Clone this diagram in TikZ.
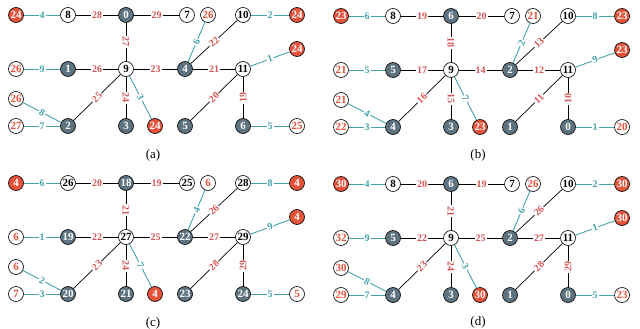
\documentclass[tikz,border=0pt]{standalone}
\usepackage{fontspec}
\setmainfont{Liberation Serif}
\usepackage{tikz}
\usetikzlibrary{positioning}
\usepackage{xcolor}

\definecolor{nodegray}{RGB}{94,115,128}
\definecolor{nodered}{RGB}{229,83,59}
\definecolor{edgeteal}{RGB}{70,163,172}
\definecolor{labred}{RGB}{215,85,85}

\begin{document}
\begin{tikzpicture}[
    x=1pt, y=-1pt,
    vert/.style = {circle, draw=black, line width=0.6pt, minimum size=15pt, inner sep=0pt, font=\fontsize{11}{11}\selectfont\bfseries},
    gnode/.style = {vert, fill=nodegray, text=white},
    rnode/.style = {vert, fill=nodered, text=white},
    wnode/.style = {vert, fill=white, text=black},
    lnode/.style = {vert, fill=white, text=nodered},
    tedge/.style = {draw=black, line width=0.7pt},
    ledge/.style = {draw=edgeteal, line width=0.9pt},
    elab/.style = {fill=white, inner sep=1pt, sloped, font=\fontsize{10}{10}\selectfont\bfseries},
    rlab/.style = {elab, text=labred},
    tlab/.style = {elab, text=edgeteal},
    caption/.style = {font=\fontsize{13}{13}\selectfont}
]
\useasboundingbox (0,0) rectangle (640,329);

% Panel (a)
\node (a1) [rnode] at (16, 15) {24};
\node (a2) [wnode] at (68, 15) {8};
\node (a3) [gnode] at (126, 15) {0};
\node (a4) [wnode] at (187, 15) {7};
\node (a5) [lnode] at (208, 15) {26};
\node (a6) [wnode] at (243, 15) {10};
\node (a7) [rnode] at (297, 15) {24};
\node (a8) [rnode] at (297, 49) {24};
\node (a9) [lnode] at (16, 69) {26};
\node (a10) [gnode] at (68, 69) {1};
\node (a11) [wnode] at (126, 69) {9};
\node (a12) [gnode] at (185, 69) {4};
\node (a13) [wnode] at (243, 69) {11};
\node (a14) [lnode] at (16, 99) {26};
\node (a15) [lnode] at (16, 126) {27};
\node (a16) [gnode] at (68, 126) {2};
\node (a17) [gnode] at (126, 126) {3};
\node (a18) [rnode] at (155, 126) {24};
\node (a19) [gnode] at (185, 126) {5};
\node (a20) [gnode] at (243, 126) {6};
\node (a21) [lnode] at (297, 126) {25};

\draw [ledge] (a1) -- node [tlab] {4} (a2);
\draw [tedge] (a2) -- node [rlab] {28} (a3);
\draw [tedge] (a3) -- node [rlab] {29} (a4);
\draw [tedge] (a3) -- node [rlab] {27} (a11);
\draw [ledge] (a9) -- node [tlab] {9} (a10);
\draw [tedge] (a10) -- node [rlab] {26} (a11);
\draw [tedge] (a11) -- node [rlab] {23} (a12);
\draw [tedge] (a12) -- node [rlab] {21} (a13);
\draw [ledge] (a12) -- node [tlab] {6} (a5);
\draw [tedge] (a12) -- node [rlab] {22} (a6);
\draw [ledge] (a6) -- node [tlab] {2} (a7);
\draw [ledge] (a13) -- node [tlab] {1} (a8);
\draw [tedge] (a13) -- node [rlab] {20} (a19);
\draw [tedge] (a20) -- node [rlab] {19} (a13);
\draw [ledge] (a20) -- node [tlab] {5} (a21);
\draw [tedge] (a11) -- node [rlab] {25} (a16);
\draw [tedge] (a11) -- node [rlab] {24} (a17);
\draw [ledge] (a11) -- node [tlab] {3} (a18);
\draw [ledge] (a14) -- node [tlab] {8} (a16);
\draw [ledge] (a15) -- node [tlab] {7} (a16);

\node (la) [caption] at (153, 155) {(a)};

% Panel (b)
\begin{scope}[shift={(325,1)}]
\node (b1) [rnode] at (16, 15) {23};
\node (b2) [wnode] at (68, 15) {8};
\node (b3) [gnode] at (126, 15) {6};
\node (b4) [wnode] at (187, 15) {7};
\node (b5) [lnode] at (208, 15) {21};
\node (b6) [wnode] at (243, 15) {10};
\node (b7) [rnode] at (297, 15) {23};
\node (b8) [rnode] at (297, 49) {23};
\node (b9) [lnode] at (16, 69) {21};
\node (b10) [gnode] at (68, 69) {5};
\node (b11) [wnode] at (126, 69) {9};
\node (b12) [gnode] at (185, 69) {2};
\node (b13) [wnode] at (243, 69) {11};
\node (b14) [lnode] at (16, 99) {21};
\node (b15) [lnode] at (16, 126) {22};
\node (b16) [gnode] at (68, 126) {4};
\node (b17) [gnode] at (126, 126) {3};
\node (b18) [rnode] at (155, 126) {23};
\node (b19) [gnode] at (185, 126) {1};
\node (b20) [gnode] at (243, 126) {0};
\node (b21) [lnode] at (297, 126) {20};

\draw [ledge] (b1) -- node [tlab] {6} (b2);
\draw [tedge] (b2) -- node [rlab] {19} (b3);
\draw [tedge] (b3) -- node [rlab] {20} (b4);
\draw [tedge] (b3) -- node [rlab] {18} (b11);
\draw [ledge] (b9) -- node [tlab] {5} (b10);
\draw [tedge] (b10) -- node [rlab] {17} (b11);
\draw [tedge] (b11) -- node [rlab] {14} (b12);
\draw [tedge] (b12) -- node [rlab] {12} (b13);
\draw [ledge] (b12) -- node [tlab] {2} (b5);
\draw [tedge] (b12) -- node [rlab] {13} (b6);
\draw [ledge] (b6) -- node [tlab] {8} (b7);
\draw [ledge] (b13) -- node [tlab] {9} (b8);
\draw [tedge] (b13) -- node [rlab] {11} (b19);
\draw [tedge] (b20) -- node [rlab] {10} (b13);
\draw [ledge] (b20) -- node [tlab] {1} (b21);
\draw [tedge] (b11) -- node [rlab] {16} (b16);
\draw [tedge] (b11) -- node [rlab] {15} (b17);
\draw [ledge] (b11) -- node [tlab] {7} (b18);
\draw [ledge] (b14) -- node [tlab] {4} (b16);
\draw [ledge] (b15) -- node [tlab] {3} (b16);

\node (lb) [caption] at (153, 154) {(b)};
\end{scope}

% Panel (c)
\begin{scope}[shift={(0,168)}]
\node (c1) [rnode] at (16, 15) {4};
\node (c2) [wnode] at (68, 15) {26};
\node (c3) [gnode] at (126, 15) {18};
\node (c4) [wnode] at (187, 15) {25};
\node (c5) [lnode] at (208, 15) {6};
\node (c6) [wnode] at (243, 15) {28};
\node (c7) [rnode] at (297, 15) {4};
\node (c8) [rnode] at (297, 49) {4};
\node (c9) [lnode] at (16, 69) {6};
\node (c10) [gnode] at (68, 69) {19};
\node (c11) [wnode] at (126, 69) {27};
\node (c12) [gnode] at (185, 69) {22};
\node (c13) [wnode] at (243, 69) {29};
\node (c14) [lnode] at (16, 99) {6};
\node (c15) [lnode] at (16, 126) {7};
\node (c16) [gnode] at (68, 126) {20};
\node (c17) [gnode] at (126, 126) {21};
\node (c18) [rnode] at (155, 126) {4};
\node (c19) [gnode] at (185, 126) {23};
\node (c20) [gnode] at (243, 126) {24};
\node (c21) [lnode] at (297, 126) {5};

\draw [ledge] (c1) -- node [tlab] {6} (c2);
\draw [tedge] (c2) -- node [rlab] {20} (c3);
\draw [tedge] (c3) -- node [rlab] {19} (c4);
\draw [tedge] (c3) -- node [rlab] {21} (c11);
\draw [ledge] (c9) -- node [tlab] {1} (c10);
\draw [tedge] (c10) -- node [rlab] {22} (c11);
\draw [tedge] (c11) -- node [rlab] {25} (c12);
\draw [tedge] (c12) -- node [rlab] {27} (c13);
\draw [ledge] (c12) -- node [tlab] {4} (c5);
\draw [tedge] (c12) -- node [rlab] {26} (c6);
\draw [ledge] (c6) -- node [tlab] {8} (c7);
\draw [ledge] (c13) -- node [tlab] {9} (c8);
\draw [tedge] (c13) -- node [rlab] {28} (c19);
\draw [tedge] (c20) -- node [rlab] {29} (c13);
\draw [ledge] (c20) -- node [tlab] {5} (c21);
\draw [tedge] (c11) -- node [rlab] {23} (c16);
\draw [tedge] (c11) -- node [rlab] {24} (c17);
\draw [ledge] (c11) -- node [tlab] {7} (c18);
\draw [ledge] (c14) -- node [tlab] {2} (c16);
\draw [ledge] (c15) -- node [tlab] {3} (c16);

\node (lc) [caption] at (153, 155) {(c)};
\end{scope}

% Panel (d)
\begin{scope}[shift={(325,169)}]
\node (d1) [rnode] at (16, 15) {30};
\node (d2) [wnode] at (68, 15) {8};
\node (d3) [gnode] at (126, 15) {6};
\node (d4) [wnode] at (187, 15) {7};
\node (d5) [lnode] at (208, 15) {26};
\node (d6) [wnode] at (243, 15) {10};
\node (d7) [rnode] at (297, 15) {30};
\node (d8) [rnode] at (297, 49) {30};
\node (d9) [lnode] at (16, 69) {32};
\node (d10) [gnode] at (68, 69) {5};
\node (d11) [wnode] at (126, 69) {9};
\node (d12) [gnode] at (185, 69) {2};
\node (d13) [wnode] at (243, 69) {11};
\node (d14) [lnode] at (16, 99) {30};
\node (d15) [lnode] at (16, 126) {29};
\node (d16) [gnode] at (68, 126) {4};
\node (d17) [gnode] at (126, 126) {3};
\node (d18) [rnode] at (155, 126) {30};
\node (d19) [gnode] at (185, 126) {1};
\node (d20) [gnode] at (243, 126) {0};
\node (d21) [lnode] at (297, 126) {23};

\draw [ledge] (d1) -- node [tlab] {4} (d2);
\draw [tedge] (d2) -- node [rlab] {20} (d3);
\draw [tedge] (d3) -- node [rlab] {19} (d4);
\draw [tedge] (d3) -- node [rlab] {21} (d11);
\draw [ledge] (d9) -- node [tlab] {9} (d10);
\draw [tedge] (d10) -- node [rlab] {22} (d11);
\draw [tedge] (d11) -- node [rlab] {25} (d12);
\draw [tedge] (d12) -- node [rlab] {27} (d13);
\draw [ledge] (d12) -- node [tlab] {6} (d5);
\draw [tedge] (d12) -- node [rlab] {26} (d6);
\draw [ledge] (d6) -- node [tlab] {2} (d7);
\draw [ledge] (d13) -- node [tlab] {1} (d8);
\draw [tedge] (d13) -- node [rlab] {28} (d19);
\draw [tedge] (d20) -- node [rlab] {29} (d13);
\draw [ledge] (d20) -- node [tlab] {5} (d21);
\draw [tedge] (d11) -- node [rlab] {23} (d16);
\draw [tedge] (d11) -- node [rlab] {24} (d17);
\draw [ledge] (d11) -- node [tlab] {3} (d18);
\draw [ledge] (d14) -- node [tlab] {8} (d16);
\draw [ledge] (d15) -- node [tlab] {7} (d16);

\node (ld) [caption] at (153, 153) {(d)};
\end{scope}

\end{tikzpicture}
\end{document}
